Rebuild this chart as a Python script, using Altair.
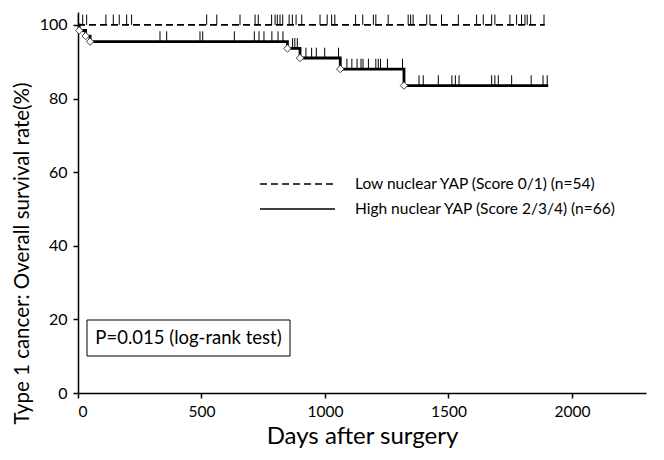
import altair as alt
import pandas as pd

LOW = "Low nuclear YAP (Score 0/1) (n=54)"
HIGH = "High nuclear YAP (Score 2/3/4) (n=66)"

# Low group: no events, all censored
low_line_days = [0, 1890]
low_line_surv = [100, 100]
low_censor_days = [1, 19, 35, 113, 143, 167, 197, 217, 521, 562, 656, 717, 730,
                   784, 798, 807, 818, 829, 855, 868, 883, 906, 980, 1009, 1027,
                   1040, 1124, 1153, 1196, 1206, 1256, 1337, 1347, 1357, 1412,
                   1425, 1472, 1540, 1614, 1641, 1675, 1688, 1749, 1776, 1796,
                   1810, 1819, 1833, 1887]

# High group: events (diamonds) and censored ticks
high_event_days = [5, 31, 49, 848, 899, 1062, 1320]
high_event_surv = [98.48, 96.97, 95.45, 93.6, 91.0, 88.0, 83.5]
high_end_day = 1904

high_censor_days = [332, 359, 494, 505, 633, 714, 733, 753, 785, 810, 830,
                    869, 878, 888,
                    923, 946, 965, 999, 1055,
                    1089, 1109, 1130, 1146, 1154, 1176, 1206, 1216, 1225, 1253, 1314,
                    1381, 1398, 1459, 1514, 1528, 1543, 1675, 1688, 1702, 1756,
                    1835, 1883, 1900]
high_censor_surv = [95.45] * 11 + [93.6] * 3 + [91.0] * 5 + [88.0] * 11 + [83.5] * 13

x_ticks = [0, 500, 1000, 1500, 2000]
y_ticks = [0, 20, 40, 60, 80, 100]
p_text = ["P=0.015 (log-rank test)"]

FONT = "Lato"

lines = pd.DataFrame(
    {"day": low_line_days, "surv": low_line_surv, "group": [LOW] * len(low_line_days)}
)
hi_days = [0] + high_event_days + [high_end_day]
hi_surv = [100] + high_event_surv + [high_event_surv[-1]]
lines = pd.concat([lines, pd.DataFrame({"day": hi_days, "surv": hi_surv, "group": [HIGH] * len(hi_days)})])

censor = pd.concat([
    pd.DataFrame({"day": low_censor_days, "surv": [100] * len(low_censor_days), "group": LOW}),
    pd.DataFrame({"day": high_censor_days, "surv": high_censor_surv, "group": HIGH}),
])
events = pd.DataFrame({"day": high_event_days, "surv": high_event_surv})

xscale = alt.Scale(domain=[0, 2300], nice=False, zero=True)
yscale = alt.Scale(domain=[0, 103.5], nice=False)

xaxis = alt.Axis(values=x_ticks, format="d", title="Days after surgery", grid=False,
                 domainColor="black", domainWidth=1.5, tickColor="black", tickWidth=1.5,
                 tickSize=5, labelFont=FONT, labelFontSize=15.5, labelColor="black",
                 labelPadding=6, titleFont=FONT, titleFontSize=24, titleFontWeight="normal",
                 titleColor="black", titlePadding=5)
yaxis = alt.Axis(values=y_ticks, title="Type 1 cancer: Overall survival rate(%)", grid=False,
                 domainColor="black", domainWidth=1.5, tickColor="black", tickWidth=1.5,
                 tickSize=5, labelFont=FONT, labelFontSize=16, labelColor="black",
                 labelPadding=6, titleFont=FONT, titleFontSize=20.5, titleFontWeight="normal",
                 titleColor="black", titleX=-46, titleY=241)

line_layer = alt.Chart(lines).mark_line(interpolate="step-after", color="black").encode(
    x=alt.X("day:Q", scale=xscale, axis=xaxis),
    y=alt.Y("surv:Q", scale=yscale, axis=yaxis),
    strokeDash=alt.StrokeDash("group:N", scale=alt.Scale(domain=[LOW, HIGH], range=[[7, 4], [1, 0]]),
                              legend=None),
    strokeWidth=alt.StrokeWidth("group:N", scale=alt.Scale(domain=[LOW, HIGH], range=[1.8, 2.8]),
                                legend=None),
)

tick_layer = alt.Chart(censor).transform_calculate(top="datum.surv + 2.8").mark_rule(
    color="black", strokeWidth=1
).encode(
    x=alt.X("day:Q", scale=xscale),
    y=alt.Y("surv:Q", scale=yscale),
    y2="top:Q",
)

event_layer = alt.Chart(events).mark_point(
    shape="diamond", filled=True, fill="white", stroke="#444", strokeWidth=1, size=55, opacity=1
).encode(
    x=alt.X("day:Q", scale=xscale),
    y=alt.Y("surv:Q", scale=yscale),
)

# manual legend
leg_low = pd.DataFrame({"label": [LOW]})
leg_high = pd.DataFrame({"label": [HIGH]})
leg_low_line = alt.Chart(leg_low).mark_rule(color="black", strokeWidth=1.6, strokeDash=[7, 4]).encode(
    x=alt.value(182), x2=alt.value(257), y=alt.value(172)
)
leg_high_line = alt.Chart(leg_high).mark_rule(color="black", strokeWidth=1.6).encode(
    x=alt.value(182), x2=alt.value(257), y=alt.value(197)
)
leg_low_txt = alt.Chart(leg_low).mark_text(font=FONT, fontSize=15.5, color="black", align="left",
                                           baseline="middle").encode(
    x=alt.value(277), y=alt.value(172), text="label:N"
)
leg_high_txt = alt.Chart(leg_high).mark_text(font=FONT, fontSize=15.5, color="black", align="left",
                                             baseline="middle").encode(
    x=alt.value(277), y=alt.value(197), text="label:N"
)

ann = pd.DataFrame({"label": p_text})
box = alt.Chart(ann).mark_rect(fill="white", stroke="black", strokeWidth=1).encode(
    x=alt.value(9), x2=alt.value(212), y=alt.value(308), y2=alt.value(344)
)
txt = alt.Chart(ann).mark_text(font=FONT, fontSize=18.5, color="black").encode(
    x=alt.value(110.5), y=alt.value(326), text="label:N"
)

chart = alt.layer(line_layer, tick_layer, event_layer,
                  leg_low_line, leg_high_line, leg_low_txt, leg_high_txt,
                  box, txt).properties(
    width=568, height=381,
    autosize=alt.AutoSizeParams(type="none"),
    padding={"left": 70, "top": 4, "right": 10, "bottom": 59},
).configure_view(stroke=None)

chart.save("out.html", embed_options={"renderer": "svg", "actions": False})
